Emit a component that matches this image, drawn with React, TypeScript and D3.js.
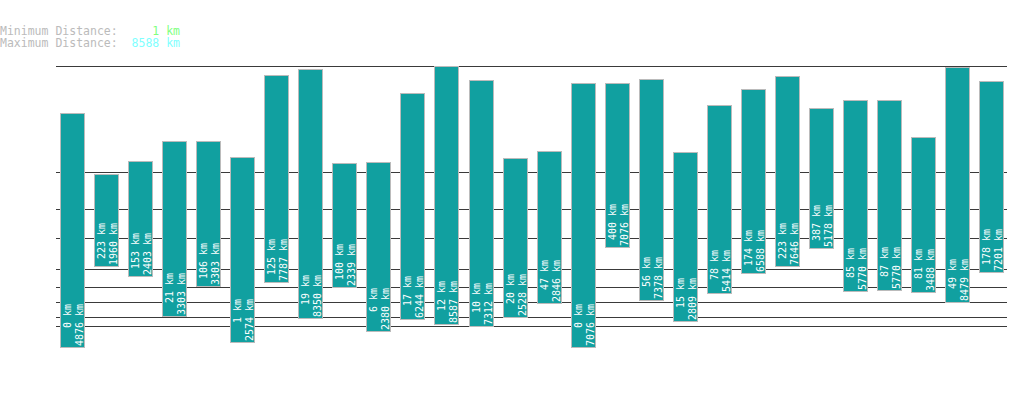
import React, { useEffect, useRef } from 'react';
import * as d3 from 'd3';

// min / max distance per entry (km)
const minDistances = [0, 223, 153, 21, 106, 1, 125, 19, 100, 6, 17, 12, 10, 20, 47, 0, 400, 56, 15, 78, 174, 223, 387, 85, 87, 81, 49, 178];
const maxDistances = [4876, 1960, 2403, 3303, 3303, 2574, 7787, 8350, 2339, 2380, 6244, 8587, 7312, 2528, 2846, 7076, 7076, 7378, 2809, 5414, 6588, 7646, 5178, 5770, 5770, 3488, 8479, 7201];
const gridValues = [10, 20, 50, 100, 200, 500, 1000, 2000];
const overallMin = 1;
const overallMax = 8588;

const MONO = '"DejaVu Sans Mono", "Liberation Mono", monospace';

export default function App() {
  const ref = useRef<HTMLDivElement>(null);

  useEffect(() => {
    const container = ref.current;
    if (!container) return;
    d3.select(container).selectAll('*').remove();

    const width = 1019, height = 402;
    const svg = d3.select(container).append('svg').attr('width', width).attr('height', height).style('display', 'block');

    // header
    const hdr = svg.append('text').attr('font-family', MONO).attr('font-size', 11.5).attr('xml:space', 'preserve').style('white-space', 'pre');
    const maxLbl = `${overallMax} km`;
    const minLbl = `${overallMin} km`.padStart(maxLbl.length, ' ');
    const r1 = hdr.append('tspan').attr('x', 0).attr('y', 35);
    r1.append('tspan').attr('fill', '#bbbbbb').text('Minimum Distance:  ');
    r1.append('tspan').attr('fill', '#7fff7f').text(minLbl);
    const r2 = hdr.append('tspan').attr('x', 0).attr('y', 47);
    r2.append('tspan').attr('fill', '#bbbbbb').text('Maximum Distance:  ');
    r2.append('tspan').attr('fill', '#7fffff').text(maxLbl);

    const left = 56, right = 1007;
    const x = d3.scaleBand<number>().domain(d3.range(minDistances.length)).range([left, right]).paddingInner(0.3).paddingOuter(0.118);
    // compressed distance scale (v + 1 so zero is valid)
    const y = d3.scalePow().exponent(0.3).domain([1, overallMax + 1]).range([346.5, 66]);
    const yv = (v: number) => y(v + 1);

    // grid lines
    const lines = [...gridValues, overallMax];
    svg.append('g').selectAll('line').data(lines).enter().append('line')
      .attr('x1', left).attr('x2', right)
      .attr('y1', d => Math.round(yv(d)) + 0.5).attr('y2', d => Math.round(yv(d)) + 0.5)
      .attr('stroke', '#3a3a3a').attr('stroke-width', 1.2);

    const bars = svg.append('g').selectAll('g').data(minDistances.map((mn, i) => ({i, mn, mx: maxDistances[i]}))).enter().append('g');
    bars.append('rect')
      .attr('x', d => Math.round(x(d.i)!) + 0.5)
      .attr('y', d => Math.round(yv(d.mx)) + 0.5)
      .attr('width', Math.round(x.bandwidth()))
      .attr('height', d => Math.round(yv(d.mn)) - Math.round(yv(d.mx)))
      .attr('fill', '#11a0a0').attr('stroke', '#bbbbbb').attr('stroke-width', 1);

    const lbl = (d: {mn: number, mx: number}) => {
      const b = `${d.mx} km`;
      return [`${d.mn} km`.padStart(b.length, ' '), b];
    };
    [0, 1].forEach(k => {
      bars.append('text')
        .attr('transform', d => `translate(${Math.round(x(d.i)!) + 11 + k * 11.5},${Math.round(yv(d.mn)) - 1}) rotate(-90)`)
        .attr('font-family', MONO).attr('font-size', 10).attr('fill', '#ffffff')
        .attr('xml:space', 'preserve').style('white-space', 'pre')
        .text(d => lbl(d)[k]);
    });
  }, []);

  return (
    <>
      <style>{'body{margin:0}'}</style>
      <div ref={ref} style={{width: 1019, height: 402}} />
    </>
  );
}
